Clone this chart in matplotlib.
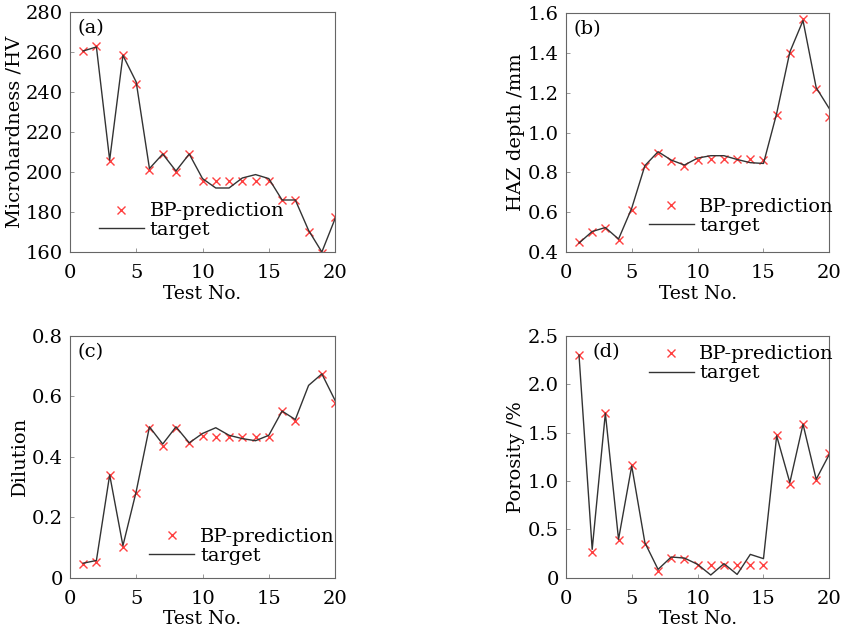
import numpy as np
import matplotlib
matplotlib.use('Agg')
import matplotlib.pyplot as plt

plt.rcParams['font.family'] = ['DejaVu Serif']
plt.rcParams['font.size'] = 14

test_no = np.arange(1, 21)

# (a) микротвердость
hv_pred = [260.5, 263, 205.5, 258.3, 243.8, 200.8, 209.2, 200, 208.8, 195.5,
           195.5, 195.5, 195.5, 195.5, 195.5, 185.8, 185.8, 170, 159.5, 177.5]
hv_target = [260.5, 262.5, 206, 258.3, 245, 201.7, 209, 200.5, 209, 196.7,
             192, 192, 197, 198.7, 196.7, 186, 186, 170.8, 160, 176.7]

# (b) глубина ЗТВ
haz_pred = [0.45, 0.50, 0.52, 0.46, 0.61, 0.834, 0.90, 0.857, 0.834, 0.862,
            0.865, 0.865, 0.865, 0.865, 0.862, 1.087, 1.40, 1.572, 1.218, 1.076]
haz_target = [0.445, 0.503, 0.523, 0.465, 0.62, 0.834, 0.904, 0.862, 0.837, 0.872,
              0.884, 0.884, 0.865, 0.849, 0.845, 1.096, 1.405, 1.563, 1.226, 1.12]

# (c) разбавление (нет прогноза для 18)
dil_pred = [0.046, 0.053, 0.338, 0.102, 0.279, 0.495, 0.435, 0.496, 0.444, 0.469,
            0.466, 0.466, 0.466, 0.466, 0.466, 0.55, 0.518, np.nan, 0.672, 0.578]
dil_target = [0.048, 0.057, 0.34, 0.106, 0.285, 0.499, 0.442, 0.499, 0.446, 0.477,
              0.496, 0.471, 0.46, 0.453, 0.471, 0.551, 0.523, 0.636, 0.674, 0.586]

# (d) пористость
por_pred = [2.30, 0.27, 1.70, 0.386, 1.162, 0.352, 0.069, 0.207, 0.197, 0.128,
            0.128, 0.131, 0.128, 0.128, 0.128, 1.476, 0.972, 1.593, 1.01, 1.293]
por_target = [2.30, 0.293, 1.70, 0.397, 1.155, 0.362, 0.086, 0.214, 0.203, 0.138,
              0.028, 0.145, 0.034, 0.241, 0.197, 1.466, 0.983, 1.586, 1.017, 1.276]

panels = [
    ('(a)', hv_pred, hv_target, 'Microhardness /HV', (160, 280), np.arange(160, 281, 20),
     [0.083, 0.600, 0.315, 0.381], (0.03, 0.97), (0.11, 0.13)),
    ('(b)', haz_pred, haz_target, 'HAZ depth /mm', (0.4, 1.6), np.arange(0.4, 1.61, 0.2),
     [0.672, 0.600, 0.313, 0.379], (0.03, 0.97), (0.315, 0.148)),
    ('(c)', dil_pred, dil_target, 'Dilution', (0, 0.8), np.arange(0, 0.81, 0.2),
     [0.083, 0.083, 0.315, 0.384], (0.03, 0.97), (0.30, 0.128)),
    ('(d)', por_pred, por_target, 'Porosity /%', (0, 2.5), np.arange(0, 2.51, 0.5),
     [0.672, 0.083, 0.313, 0.384], (0.10, 0.97), (0.315, 0.884)),
]

fig = plt.figure(figsize=(8.42, 6.3), dpi=100)

for tag, pred, target, ylab, ylim, yt, pos, tagpos, legpos in panels:
    ax = fig.add_axes(pos)
    ax.plot(test_no, pred, 'x', color='#ff4040', markersize=6, mew=1.0, label='BP-prediction')
    ax.plot(test_no, target, '-', color='#333333', lw=1.0, label='target')
    ax.set_xlim(0, 20)
    ax.set_ylim(*ylim)
    ax.set_xticks([0, 5, 10, 15, 20])
    ax.set_yticks(yt)
    if tag == '(a)':
        ax.set_yticklabels([f'{v:.0f}' for v in yt])
    elif tag in ('(c)', '(d)'):
        ax.set_yticklabels(['0'] + [f'{v:.1f}' for v in yt[1:]])
    else:
        ax.set_yticklabels([f'{v:.1f}' for v in yt])
    ax.tick_params(direction='in', length=3, width=0.6, color='#888888')
    ax.tick_params(axis='x', pad=8.5)
    ax.tick_params(axis='y', pad=5)
    for s in ax.spines.values():
        s.set_color('#666666')
        s.set_linewidth(0.8)
    ax.set_xlabel('Test No.', labelpad=2, fontsize=13.5)
    ax.set_ylabel(ylab, labelpad=2)
    ax.text(tagpos[0], tagpos[1], tag, transform=ax.transAxes, va='top', ha='left')
    ax.legend(loc='center left', bbox_to_anchor=legpos, frameon=False,
              handlelength=2.3, handletextpad=0.3, labelspacing=0.05,
              borderpad=0, borderaxespad=0)

fig.savefig('out.png', dpi=100)
